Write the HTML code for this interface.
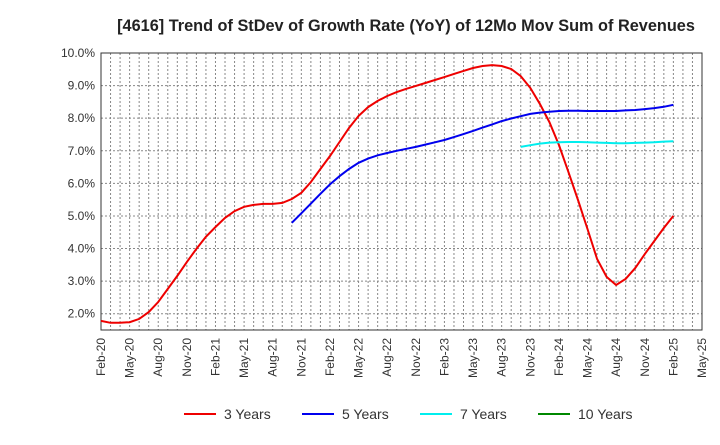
<!DOCTYPE html>
<html><head><meta charset="utf-8"><style>
body{margin:0;background:#fff;font-family:"Liberation Sans",sans-serif;}
svg text{font-family:"Liberation Sans",sans-serif;}
</style></head><body>
<svg id="chart" width="720" height="440" xmlns="http://www.w3.org/2000/svg">
<text x="406" y="31" text-anchor="middle" font-size="16.3" font-weight="bold" fill="#222">[4616]  Trend of StDev of Growth Rate (YoY) of 12Mo Mov Sum of Revenues</text>
<g id="grid"></g><g id="axes"></g><g id="series"></g><g id="legend"></g>
</svg>
<script>
const xLabels=["Feb-20","May-20","Aug-20","Nov-20","Feb-21","May-21","Aug-21","Nov-21","Feb-22","May-22","Aug-22","Nov-22","Feb-23","May-23","Aug-23","Nov-23","Feb-24","May-24","Aug-24","Nov-24","Feb-25","May-25"];
const yTicks=[2,3,4,5,6,7,8,9,10];
const s3=[1.78,1.72,1.72,1.74,1.84,2.05,2.36,2.76,3.16,3.59,3.99,4.36,4.66,4.94,5.15,5.28,5.34,5.37,5.37,5.40,5.52,5.71,6.04,6.44,6.84,7.27,7.70,8.07,8.34,8.53,8.68,8.80,8.90,8.99,9.08,9.17,9.26,9.36,9.45,9.54,9.60,9.63,9.60,9.51,9.29,8.93,8.44,7.88,7.18,6.35,5.49,4.60,3.68,3.13,2.88,3.07,3.40,3.83,4.23,4.63,5.00];
const s5Start=20;
const s5=[4.79,5.08,5.38,5.68,5.97,6.22,6.44,6.63,6.76,6.86,6.93,7.00,7.06,7.12,7.19,7.26,7.33,7.42,7.51,7.61,7.71,7.81,7.91,7.99,8.06,8.13,8.17,8.20,8.22,8.23,8.23,8.22,8.22,8.22,8.22,8.24,8.25,8.28,8.31,8.35,8.41];
const s7Start=44;
const s7=[7.12,7.17,7.22,7.25,7.26,7.27,7.27,7.26,7.25,7.24,7.23,7.23,7.24,7.25,7.26,7.28,7.29];
const s10=[];
const L=101,R=702,T=53,B=330,yMin=1.5,yMax=10,nM=63;
const NS="http://www.w3.org/2000/svg";
const X=i=>L+(R-L)*i/nM, Y=v=>B-(B-T)*(v-yMin)/(yMax-yMin);
function mk(p,tag,at){const e=document.createElementNS(NS,tag);for(const k in at)e.setAttribute(k,at[k]);p.appendChild(e);return e;}
const grid=document.getElementById('grid'),axes=document.getElementById('axes'),ser=document.getElementById('series'),leg=document.getElementById('legend');
for(let i=1;i<nM;i++){const l=mk(grid,'line',{x1:X(i),x2:X(i),y1:T,y2:B,stroke:'#888','stroke-dasharray':'2,2','stroke-width':1});

}
yTicks.forEach(v=>{const l=mk(grid,'line',{x1:L,x2:R,y1:Y(v),y2:Y(v),stroke:'#888','stroke-dasharray':'2,2','stroke-width':1});


const t=mk(axes,'text',{x:L-6,y:Y(v)+4,'text-anchor':'end','font-size':12,fill:'#333'});t.textContent=v.toFixed(1)+'%';

});
const fr=mk(axes,'rect',{x:L,y:T,width:R-L,height:B-T,fill:'none',stroke:'#333','stroke-width':1});


xLabels.forEach((s,i)=>{const x=X(i*3);const t=mk(axes,'text',{transform:`translate(${x+4},${B+8}) rotate(-90)`,'text-anchor':'end','font-size':12,fill:'#333'});t.textContent=s;

});
function line(arr,start,color,name){if(!arr.length)return;const d=arr.map((v,i)=>(i?'L':'M')+X(start+i).toFixed(1)+','+Y(v).toFixed(1)).join('');
const p=mk(ser,'path',{d,fill:'none',stroke:color,'stroke-width':2});

}
line(s3,0,'#e00','line-3-years');line(s5,s5Start,'#00e','line-5-years');line(s7,s7Start,'#0ee','line-7-years');line(s10,0,'#080','line-10-years');
[["3 Years","#e00",184],["5 Years","#00e",302],["7 Years","#0ee",420],["10 Years","#080",538]].forEach(([n,c,x])=>{
const g=mk(leg,'g',{});


mk(g,'line',{x1:x,x2:x+32,y1:414,y2:414,stroke:c,'stroke-width':2});
const t=mk(g,'text',{x:x+40,y:419,'font-size':14,fill:'#333'});t.textContent=n;});
</script>
</body></html>
